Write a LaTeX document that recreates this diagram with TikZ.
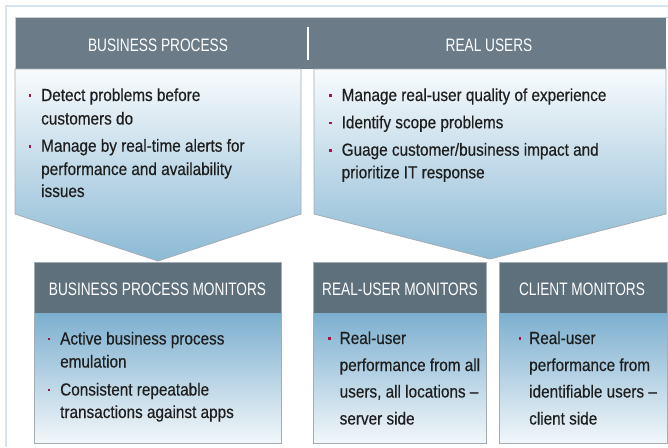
\documentclass[tikz,border=0pt]{standalone}
\usepackage{fontspec}
\newfontfamily\bodyfont{Liberation Sans}[FakeStretch=0.875, FakeBold=0.4]
\newfontfamily\headfont{Liberation Sans}[FakeStretch=0.76]

\definecolor{framebl}{HTML}{D6E4EF}
\definecolor{headgray}{HTML}{6B7C88}
\definecolor{boxhead}{HTML}{5E707C}
\definecolor{edgegray}{HTML}{A3ADB4}
\definecolor{chevtop}{HTML}{F8FBFD}
\definecolor{chevbot}{HTML}{8CBAD5}
\definecolor{boxtop}{HTML}{7CAFCF}
\definecolor{boxbot}{HTML}{F2F7FA}
\definecolor{bulletred}{HTML}{A5123F}
\definecolor{inkdark}{HTML}{1E1E1E}

% small square bullet placed left of a text baseline
\newcommand\bulletdot[2]{\fill[bulletred] ({#1-1.3},{#2-6.8}) rectangle ({#1+1.3},{#2-4.2});}

\begin{document}
\begin{tikzpicture}[x=1pt,y=-1pt,
  headtext/.style={font=\headfont\fontsize{18}{20}\selectfont, text=white, inner sep=0pt, anchor=base},
  bodytext/.style={font=\bodyfont\fontsize{17.5}{20}\selectfont, text=inkdark, inner sep=0pt, anchor=base west},
  edge/.style={draw=edgegray, line width=0.8pt},
]
\useasboundingbox (0,0) rectangle (668,447);

% outer frame
\draw[framebl, line width=2pt] (6,447) -- (6,6) -- (668,6);

% top header bar
\fill[headgray] (15,17) rectangle (666,69);
\draw[edgegray!60, line width=0.8pt] (15,69) -- (15,17) -- (668,17);
\draw[white, line width=1.5pt] (308,27) -- (308,60);
\node[headtext] (bphead) at (158,51.5) {BUSINESS PROCESS};
\node[headtext] (ruhead) at (489,51.5) {REAL USERS};

% chevrons
\path[edge, top color=chevtop, bottom color=chevbot]
  (15,69) -- (301,69) -- (301,214) -- (158,261) -- (15,214) -- cycle;
\path[edge, top color=chevtop, bottom color=chevbot]
  (314,69) -- (666,69) -- (666,214) -- (490,259) -- (314,214) -- cycle;

% left chevron text
\bulletdot{30}{101}
\node[bodytext] (bpa1) at (41,101) {Detect problems before};
\node[bodytext] (bpa2) at (41,124.5) {customers do};
\bulletdot{30}{151.7}
\node[bodytext] (bpb1) at (41,151.7) {Manage by real-time alerts for};
\node[bodytext] (bpb2) at (41,175) {performance and availability};
\node[bodytext] (bpb3) at (41,197) {issues};

% right chevron text
\bulletdot{330.5}{101}
\node[bodytext] (rua1) at (341.5,101) {Manage real-user quality of experience};
\bulletdot{330.5}{128.3}
\node[bodytext] (rub1) at (341.5,128.3) {Identify scope problems};
\bulletdot{330.5}{155.7}
\node[bodytext] (ruc1) at (341.5,155.7) {Guage customer/business impact and};
\node[bodytext] (ruc2) at (341.5,178.3) {prioritize IT response};

% monitor boxes
\path[top color=boxtop, bottom color=boxbot] (34,313) rectangle (281,443);
\fill[boxhead] (34,262) rectangle (281,313);
\draw[edge] (34,262) rectangle (281,443);

\path[top color=boxtop, bottom color=boxbot] (313,313) rectangle (486,443);
\fill[boxhead] (313,262) rectangle (486,313);
\draw[edge] (313,262) rectangle (486,443);

\path[top color=boxtop, bottom color=boxbot] (499,313) rectangle (667,443);
\fill[boxhead] (499,262) rectangle (667,313);
\draw[edge] (499,262) rectangle (667,443);

\node[headtext] (bpmhead) at (157.5,295) {BUSINESS PROCESS MONITORS};
\node[headtext] (rumhead) at (400,295) {REAL-USER MONITORS};
\node[headtext] (cmhead) at (582,295) {CLIENT MONITORS};

% business process monitors text
\bulletdot{49}{344.5}
\node[bodytext] (bpma1) at (60,344.5) {Active business process};
\node[bodytext] (bpma2) at (60,367.5) {emulation};
\bulletdot{49}{395.5}
\node[bodytext] (bpmb1) at (60,395.5) {Consistent repeatable};
\node[bodytext] (bpmb2) at (60,418) {transactions against apps};

% real-user monitors text
\bulletdot{329.3}{344}
\node[bodytext] (ruma1) at (339.5,344) {Real-user};
\node[bodytext] (ruma2) at (339.5,371) {performance from all};
\node[bodytext] (ruma3) at (339.5,397.5) {users, all locations –};
\node[bodytext] (ruma4) at (339.5,424.5) {server side};

% client monitors text
\bulletdot{520}{344}
\node[bodytext] (cma1) at (529,344) {Real-user};
\node[bodytext] (cma2) at (529,371) {performance from};
\node[bodytext] (cma3) at (529,397.5) {identifiable users –};
\node[bodytext] (cma4) at (529,424.5) {client side};
\end{tikzpicture}
\end{document}
